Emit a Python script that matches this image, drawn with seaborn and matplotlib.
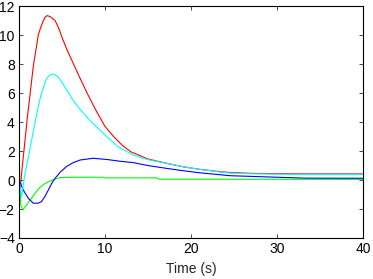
import numpy as np
import pandas as pd
import matplotlib
matplotlib.use("Agg")
import matplotlib.pyplot as plt
import seaborn as sns

# series (time in s, response)
red_t = [0, 0.15, 0.3, 0.7, 1.0, 1.28, 1.67, 2.0, 2.24, 2.5, 2.83, 3.05, 3.3, 3.7, 4.2, 4.6, 5.0, 5.5, 6.0, 7.0, 8.0,
         9.0, 10.0, 11.0, 12.0, 13.0, 15.0, 17.2, 19.0, 21.0, 23.0, 24.5, 27.0, 33.0, 40.0]
red_y = [0, -0.6, 0.46, 2.76, 4.5, 5.9, 7.9, 9.1, 10.0, 10.5, 11.0, 11.25, 11.35, 11.25, 11.0, 10.5, 9.85, 9.1, 8.45, 7.15, 5.9,
         4.75, 3.7, 3.0, 2.4, 1.95, 1.45, 1.15, 0.92, 0.74, 0.6, 0.52, 0.46, 0.42, 0.42]

cyan_t = [0, 0.3, 0.7, 1.1, 1.47, 2.0, 2.56, 3.2, 3.6, 4.0, 4.5, 5.0, 5.6, 6.3, 7.0, 8.26, 9.4, 10.2, 11.5,
          13.3, 15.0, 17.2, 19.0, 21.0, 23.0, 24.5, 27.0, 33.0, 40.0]
cyan_y = [0, -1.15, 0.46, 1.6, 2.76, 4.4, 5.9, 7.0, 7.25, 7.32, 7.15, 6.75, 6.15, 5.5, 4.95, 4.1, 3.45, 3.0, 2.3,
          1.72, 1.4, 1.15, 0.93, 0.74, 0.58, 0.48, 0.43, 0.38, 0.38]

blue_t = [0, 0.5, 1.08, 1.67, 2.2, 2.6, 3.0, 3.4, 3.8, 4.2, 4.8, 5.5, 6.3, 7.1, 8.6, 10.2, 11.7, 13.3, 15.0,
          17.2, 19.0, 21.0, 22.6, 24.5, 28.0, 33.3, 40.0]
blue_y = [0, -0.7, -1.26, -1.6, -1.6, -1.5, -1.15, -0.7, -0.23, 0.12, 0.55, 0.92, 1.2, 1.38, 1.5, 1.42, 1.3, 1.2, 1.0,
          0.8, 0.65, 0.5, 0.41, 0.3, 0.23, 0.13, 0.12]

green_t = [0, 0.02, 0.2, 0.45, 0.9, 1.4, 1.86, 2.44, 3.0, 3.5, 4.0, 4.8, 6.0, 9.8, 10.0, 16.0, 16.3, 40.0]
green_y = [1.9, 1.0, -1.7, -2.07, -1.7, -1.3, -0.92, -0.5, -0.25, -0.1, 0.02, 0.17, 0.19, 0.19, 0.15, 0.15, 0.05, 0.05]

x_ticks = [0, 10, 20, 30, 40]
y_ticks = [-4, -2, 0, 2, 4, 6, 8, 10, 12]

sns.set_style("ticks")
plt.rcParams["font.family"] = ["Liberation Sans", "DejaVu Sans"]

fig = plt.figure(figsize=(3.73, 2.79), dpi=100)
ax = fig.add_axes([0.051, 0.147, 0.922, 0.831])

series = [(red_t, red_y, "#ff0000"), (green_t, green_y, "#00ff00"),
          (blue_t, blue_y, "#0000ff"), (cyan_t, cyan_y, "#00ffff")]
for t, y, c in series:
    sns.lineplot(x=t, y=y, color=c, linewidth=0.8, sort=False, estimator=None, ax=ax)

ax.set_xlim(0, 40)
ax.set_ylim(-4, 12)
ax.set_xticks(x_ticks)
ax.set_yticks(y_ticks)
ax.tick_params(direction="in", length=3, width=0.5, labelsize=10, pad=3,
               top=True, right=True, colors="black")
for s in ax.spines.values():
    s.set_visible(True)
    s.set_linewidth(0.8)
    s.set_color("black")
ax.set_xlabel("Time (s)", fontsize=10, labelpad=4)
ax.set_ylabel("")

fig.savefig("out.png", dpi=100)
